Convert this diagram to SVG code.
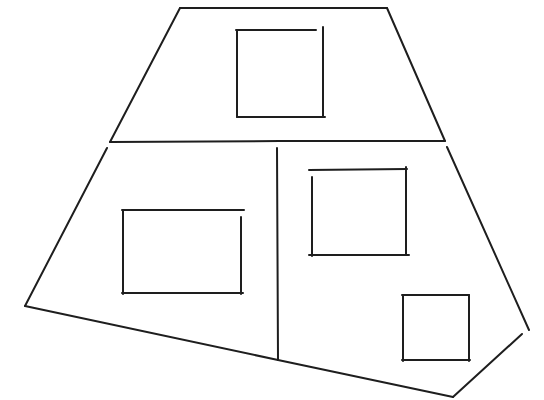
<svg xmlns="http://www.w3.org/2000/svg" width="544" height="400" viewBox="0 0 544 400">
<style>
.s{fill:none;stroke:#1e1e1e;stroke-width:2;stroke-linecap:round;stroke-linejoin:round}
</style>
<rect width="544" height="400" fill="#ffffff"/>
<g id="outline" class="s">
<path d="M180,8 L387,8"/>
<path d="M180,8 L110,142"/>
<path d="M387,8 L445,141"/>
<path d="M110,142 L280,141 L445,141"/>
<path d="M107,148 L25,306"/>
<path d="M25,306 L278,360"/>
<path d="M277,148 L278,360"/>
<path d="M447,147 L529,330"/>
<path d="M522,334 L453,397"/>
<path d="M278,360 L453,397"/>
</g>
<g id="window-top" class="s">
<path d="M236,30 L316,30"/>
<path d="M237,30 L237,117"/>
<path d="M323,27 L323,117"/>
<path d="M237,117 L325,117"/>
</g>
<g id="window-left" class="s">
<path d="M122,210 L244,210"/>
<path d="M123,210 L123,294"/>
<path d="M241,217 L241,294"/>
<path d="M122,293 L243,293"/>
</g>
<g id="window-right" class="s">
<path d="M309,170 L407,169"/>
<path d="M312,177 L312,256"/>
<path d="M406,167 L406,255"/>
<path d="M309,255 L409,255"/>
</g>
<g id="window-small" class="s">
<path d="M402,295 L469,295"/>
<path d="M403,295 L403,361"/>
<path d="M469,295 L469,361"/>
<path d="M402,360 L470,360"/>
</g>
</svg>
